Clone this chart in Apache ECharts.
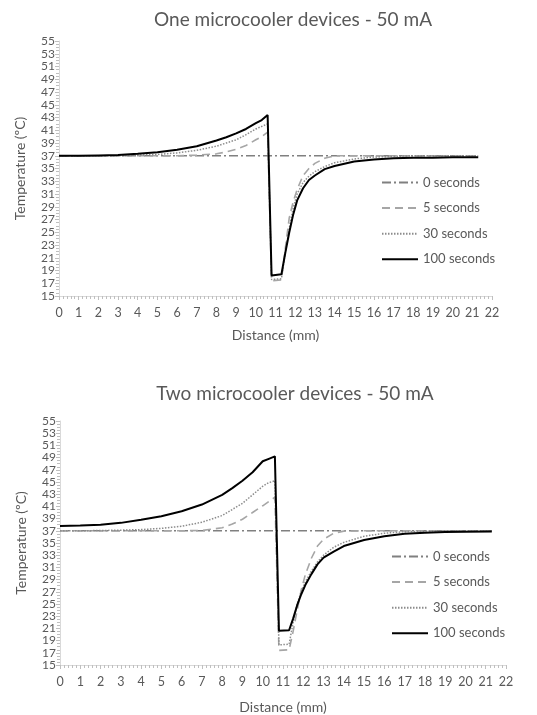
<!DOCTYPE html>
<html>
<head>
<meta charset="utf-8">
<script src="https://cdn.jsdelivr.net/npm/echarts@6/dist/echarts.min.js"></script>
<style>
html,body{margin:0;padding:0;background:#fff;}
#c{width:537px;height:715px;}
</style>
</head>
<body>
<div id="c"></div>
<script>
// ---- DATA ----
const distance = [0, 1, 2, 3, 4, 5, 6, 7, 8, 8.5, 9, 9.5, 10, 10.3, 10.6, 10.8, 11.3, 11.5, 11.7, 11.9, 12.1, 12.4, 12.7, 13, 13.5, 14, 15, 16, 17, 18, 19, 20, 21.3];
const seriesNames = ["0 seconds", "5 seconds", "30 seconds", "100 seconds"];
const xTicks = [0, 22, 1];
const yTicks = [15, 55, 2];

// One microcooler device
const one0s   = [37,37,37,37,37,37,37,37,37,37,37,37,37,37,37,37,37,37,37,37,37,37,37,37,37,37,37,37,37,37,37,37,37];
const one5s   = [37,37,37,37,37,37,37,37.1,37.3,37.6,38.0,38.6,39.5,40.0,40.7,17.4,17.5,22.5,27.3,29.8,31.7,33.9,35.0,35.8,36.6,37,37,37,37,37,37,37,37];
const one30s  = [37,37,37,37,37.1,37.2,37.45,37.85,38.5,39.0,39.5,40.3,41.2,41.6,42.0,17.6,17.7,21.9,25.6,28.8,31.0,32.8,33.8,34.5,35.3,35.9,36.5,36.8,36.9,37,37,37,37];
const one100s = [37,37,37.05,37.1,37.3,37.55,37.95,38.5,39.4,39.9,40.5,41.2,42.1,42.6,43.4,18.2,18.4,21.8,25.0,27.8,30.0,31.9,33.2,33.9,34.9,35.4,36.1,36.4,36.6,36.7,36.7,36.75,36.75];

// Two microcooler devices
const two0s   = [37,37,37,37,37,37,37,37,37,37,37,37,37,37,37,37,37,37,37,37,37,37,37,37,37,37,37,37,37,37,37,37,37];
const two5s   = [37,37,37,37,37,37,37,37.05,37.5,38.1,38.9,40.0,41.1,41.8,42.5,17.4,17.5,20.5,24.0,27.3,29.8,32.5,34.5,35.6,36.6,36.95,37,37,37,37,37,37,37];
const two30s  = [37,37,37.05,37.1,37.2,37.4,37.75,38.4,39.5,40.5,41.5,42.9,44.3,44.9,45.2,18.3,18.4,22.0,25.0,27.0,28.6,30.4,31.9,33.0,34.3,35.1,36.1,36.6,36.85,36.95,37,37,37];
const two100s = [37.8,37.85,38.0,38.3,38.8,39.4,40.2,41.3,42.9,44.0,45.2,46.6,48.4,48.8,49.2,20.6,20.7,22.6,24.8,26.6,28.1,29.9,31.5,32.6,33.6,34.5,35.5,36.1,36.5,36.7,36.8,36.85,36.9];

// ---- STYLE ----
const FONT = "Lato";
const TXT = "#595959";
const styles = [
  {color: "#808080", width: 1.5, type: [9, 3, 2, 3]},
  {color: "#a6a6a6", width: 1.6, type: [8, 5]},
  {color: "#8c8c8c", width: 1.5, type: [1.5, 1.5]},
  {color: "#000000", width: 2, type: "solid"}
];

function pairs(vals) { return distance.map((d, i) => [d, vals[i]]); }

function mkX(gi, gap) {
  return {
    type: "value", gridIndex: gi, min: xTicks[0], max: xTicks[1], interval: xTicks[2],
    name: "Distance (mm)", nameLocation: "middle", nameGap: gap,
    nameTextStyle: {fontFamily: FONT, fontSize: 14, color: TXT},
    axisLine: {show: true, lineStyle: {color: "#d9d9d9", width: 1}},
    axisTick: {show: true, length: 4, lineStyle: {color: "#bfbfbf"}},
    minorTick: {show: true, splitNumber: 5, length: 3, lineStyle: {color: "#bfbfbf"}},
    splitLine: {show: false},
    axisLabel: {fontFamily: FONT, fontSize: 12.5, color: TXT, margin: 10}
  };
}
function mkY(gi) {
  return {
    type: "value", gridIndex: gi, min: yTicks[0], max: yTicks[1], interval: yTicks[2],
    name: "Temperature (ºC)", nameLocation: "middle", nameGap: 32,
    nameTextStyle: {fontFamily: FONT, fontSize: 14, color: TXT},
    axisLine: {show: true, lineStyle: {color: "#d9d9d9", width: 1}},
    axisTick: {show: true, length: 4, lineStyle: {color: "#bfbfbf"}},
    minorTick: {show: true, splitNumber: 4, length: 3, lineStyle: {color: "#bfbfbf"}},
    splitLine: {show: false},
    axisLabel: {fontFamily: FONT, fontSize: 12, color: TXT, margin: 4, lineHeight: 10}
  };
}
function mkSeries(gi, arrs) {
  return arrs.map((a, k) => ({
    name: seriesNames[k], type: "line", xAxisIndex: gi, yAxisIndex: gi,
    data: pairs(a), showSymbol: false, symbol: "none", smooth: false,
    lineStyle: styles[k], itemStyle: {color: styles[k].color}, z: 2 + k,
    silent: true, animation: false
  }));
}
function mkLegend(left, top) {
  return {
    left: left, top: top, orient: "vertical", itemWidth: 36, itemHeight: 14, itemGap: 12.6,
    data: seriesNames, textStyle: {fontFamily: FONT, fontSize: 13, color: TXT},
    itemStyle: {opacity: 0}, selectedMode: false
  };
}

const chart = echarts.init(document.getElementById("c"), null, {renderer: "canvas"});
chart.setOption({
  animation: false,
  backgroundColor: "#fff",
  title: [
    {text: "One microcooler devices - 50 mA", left: 288, top: 5, textAlign: "center",
     textStyle: {fontFamily: FONT, fontSize: 19, fontWeight: "normal", color: TXT}},
    {text: "Two microcooler devices - 50 mA", left: 290, top: 379, textAlign: "center",
     textStyle: {fontFamily: FONT, fontSize: 19, fontWeight: "normal", color: TXT}}
  ],
  grid: [
    {left: 59, top: 41, width: 433, height: 255},
    {left: 60, top: 421, width: 446, height: 246}
  ],
  legend: [mkLegend(376, 171), mkLegend(386, 545)],
  xAxis: [mkX(0, 32), mkX(1, 35)],
  yAxis: [mkY(0), mkY(1)],
  series: mkSeries(0, [one0s, one5s, one30s, one100s]).concat(mkSeries(1, [two0s, two5s, two30s, two100s]))
});
</script>
</body>
</html>
